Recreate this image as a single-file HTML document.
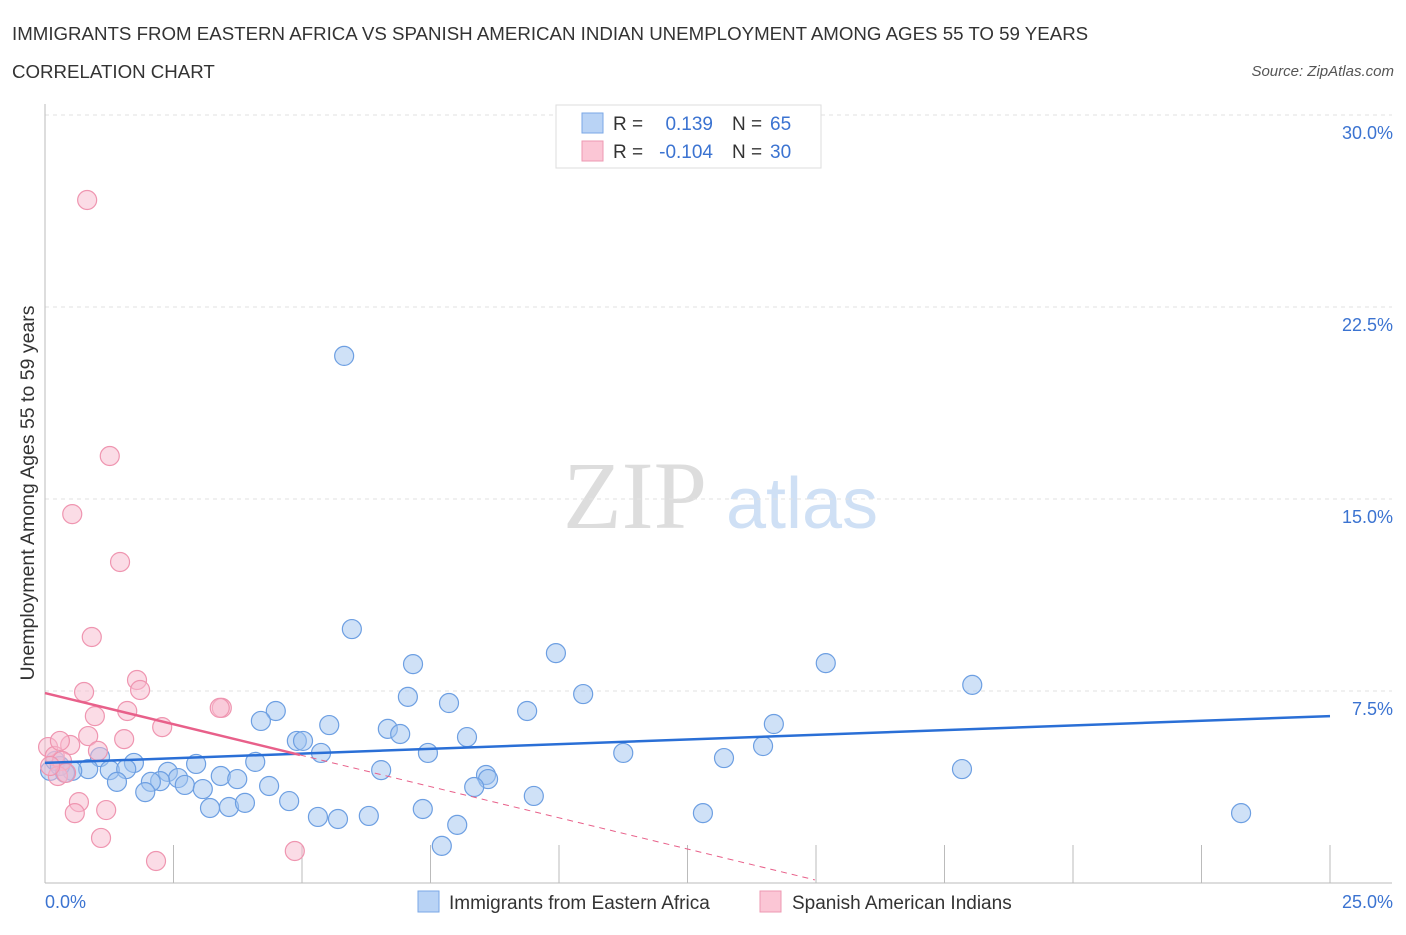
<!DOCTYPE html>
<html><head><meta charset="utf-8"><style>
body{margin:0;background:#fff;font-family:"Liberation Sans",sans-serif;}
</style></head><body>
<svg id="c" width="1406" height="930" xmlns="http://www.w3.org/2000/svg">
<text x="12" y="40" font-size="18.7" fill="#333">IMMIGRANTS FROM EASTERN AFRICA VS SPANISH AMERICAN INDIAN UNEMPLOYMENT AMONG AGES 55 TO 59 YEARS</text>
<text x="12" y="78" font-size="18.7" fill="#333">CORRELATION CHART</text>
<text x="1394" y="76" font-size="15" fill="#555" font-style="italic" text-anchor="end">Source: ZipAtlas.com</text>
<text x="635" y="528" font-size="96" fill="#ddd" font-family="Liberation Serif" text-anchor="middle">ZIP</text>
<text x="802" y="528" font-size="72" fill="#cfe0f5" text-anchor="middle">atlas</text>
<g id="grid"></g>
<g id="marks"></g>
<text x="34" y="493" font-size="19.5" fill="#333" text-anchor="middle" transform="rotate(-90 34 493)">Unemployment Among Ages 55 to 59 years</text>
<text x="45" y="908" font-size="18" fill="#3b73d1">0.0%</text>
<text x="1393" y="908" font-size="18" fill="#3b73d1" text-anchor="end">25.0%</text>
<g>
<rect x="556" y="105" width="265" height="63" fill="#fff" stroke="#ddd"/>
<rect x="582" y="113" width="21" height="20" fill="#b9d3f5" stroke="#7aa7e6"/>
<rect x="582" y="141" width="21" height="20" fill="#fbc6d5" stroke="#ee98b2"/>
<text x="613" y="130" font-size="19" fill="#333">R =</text>
<text x="713" y="130" font-size="19" fill="#3b73d1" text-anchor="end">0.139</text>
<text x="732" y="130" font-size="19" fill="#333">N =</text>
<text x="770" y="130" font-size="19" fill="#3b73d1">65</text>
<text x="613" y="158" font-size="19" fill="#333">R =</text>
<text x="713" y="158" font-size="19" fill="#3b73d1" text-anchor="end">-0.104</text>
<text x="732" y="158" font-size="19" fill="#333">N =</text>
<text x="770" y="158" font-size="19" fill="#3b73d1">30</text>
</g>
<g>
<rect x="418" y="891" width="21" height="21" fill="#b9d3f5" stroke="#7aa7e6"/>
<text x="449" y="909" font-size="19" fill="#333">Immigrants from Eastern Africa</text>
<rect x="760" y="891" width="21" height="21" fill="#fbc6d5" stroke="#ee98b2"/>
<text x="792" y="909" font-size="19" fill="#333">Spanish American Indians</text>
</g>
</svg>
<script>
const yTicks=[7.5,15,22.5,30];
const yTickLabels=["7.5%","15.0%","22.5%","30.0%"];
const xTicks=[0,2.5,5,7.5,10,12.5,15,17.5,20,22.5,25];
const blueX=[5.82,5.97,9.94,15.19,7.16,7.06,10.47,18.04,7.86,4.49,9.38,4.2,5.53,14.18,6.67,6.91,8.21,4.9,5.02,5.37,7.45,11.25,13.97,13.21,4.09,2.94,1.73,1.07,0.84,0.53,1.26,1.58,2.39,2.59,3.42,3.74,6.54,8.58,8.62,2.24,2.06,2.72,3.07,4.36,8.35,1.95,1.4,4.75,9.51,3.21,3.58,3.89,7.35,12.8,23.27,5.31,5.7,6.3,8.02,7.72,17.84,0.1,0.2,0.29,0.39];
const blueY=[20.59,9.92,8.98,8.59,8.55,7.27,7.38,7.74,7.03,6.72,6.72,6.33,6.17,6.21,6.02,5.82,5.7,5.55,5.55,5.08,5.08,5.08,5.35,4.88,4.73,4.65,4.69,4.92,4.45,4.38,4.41,4.45,4.34,4.1,4.18,4.06,4.41,4.22,4.06,3.98,3.95,3.83,3.67,3.79,3.75,3.55,3.95,3.2,3.4,2.93,2.97,3.13,2.89,2.73,2.73,2.58,2.5,2.62,2.27,1.45,4.45,4.38,4.77,4.57,4.3];
const pinkX=[0.82,1.26,0.53,1.46,0.91,1.79,1.85,0.76,3.44,1.6,0.97,2.28,0.84,1.54,0.49,1.03,0.06,0.19,0.33,0.25,0.41,0.66,1.19,0.58,1.09,2.16,4.86,3.4,0.1,0.29];
const pinkY=[26.68,16.68,14.41,12.54,9.61,7.93,7.54,7.46,6.84,6.72,6.52,6.09,5.74,5.62,5.39,5.16,5.31,4.96,4.77,4.18,4.3,3.16,2.85,2.73,1.76,0.86,1.25,6.84,4.57,5.55];
const blueTrend=[4.69,6.52];
const pinkTrend=[7.42,0.12];
const pinkSolidEnd=4.96, pinkDashEnd=14.98;
const NS="http://www.w3.org/2000/svg";
const sx=v=>45+v*51.4, sy=v=>883-v*25.6;
function mk(t,a,p){const e=document.createElementNS(NS,t);for(const k in a)e.setAttribute(k,a[k]);p.appendChild(e);return e;}
const grid=document.getElementById('grid'),marks=document.getElementById('marks');
yTicks.forEach((t,i)=>{
 const l=mk('line',{x1:45,x2:1392,y1:sy(t),y2:sy(t),stroke:'#e2e2e2','stroke-dasharray':'4 4'},grid);
 
 
 const tx=mk('text',{x:1393,y:sy(t)+24,'font-size':18,fill:'#3b73d1','text-anchor':'end'},grid);
 tx.textContent=yTickLabels[i];
 
 
});
const ax=mk('line',{x1:45,x2:45,y1:104,y2:883,stroke:'#bbb'},grid);


const bx=mk('line',{x1:45,x2:1392,y1:883,y2:883,stroke:'#bbb'},grid);


xTicks.forEach(t=>{
 const l=mk('line',{x1:sx(t),x2:sx(t),y1:845,y2:883,stroke:'#bbb'},grid);
 
 
});
blueX.forEach((x,i)=>{
 const c=mk('circle',{cx:sx(x),cy:sy(blueY[i]),r:9.5,fill:'rgba(160,195,240,0.5)',stroke:'#6d9fe2','stroke-width':1.2},marks);
 
 
});
pinkX.forEach((x,i)=>{
 const c=mk('circle',{cx:sx(x),cy:sy(pinkY[i]),r:9.5,fill:'rgba(248,185,205,0.5)',stroke:'#ef95b0','stroke-width':1.2},marks);
 
 
});
const pAt=x=>pinkTrend[0]+(pinkTrend[1]-pinkTrend[0])*x/pinkDashEnd;
const bt=mk('line',{x1:sx(0),y1:sy(blueTrend[0]),x2:sx(25),y2:sy(blueTrend[1]),stroke:'#2a6fd6','stroke-width':2.5},marks);


const pt=mk('line',{x1:sx(0),y1:sy(pAt(0)),x2:sx(pinkSolidEnd),y2:sy(pAt(pinkSolidEnd)),stroke:'#e8608a','stroke-width':2.5},marks);


const pd=mk('line',{x1:sx(pinkSolidEnd),y1:sy(pAt(pinkSolidEnd)),x2:sx(pinkDashEnd),y2:sy(pAt(pinkDashEnd)),stroke:'#e8608a','stroke-width':1,'stroke-dasharray':'6 5'},marks);


</script>
</body></html>
